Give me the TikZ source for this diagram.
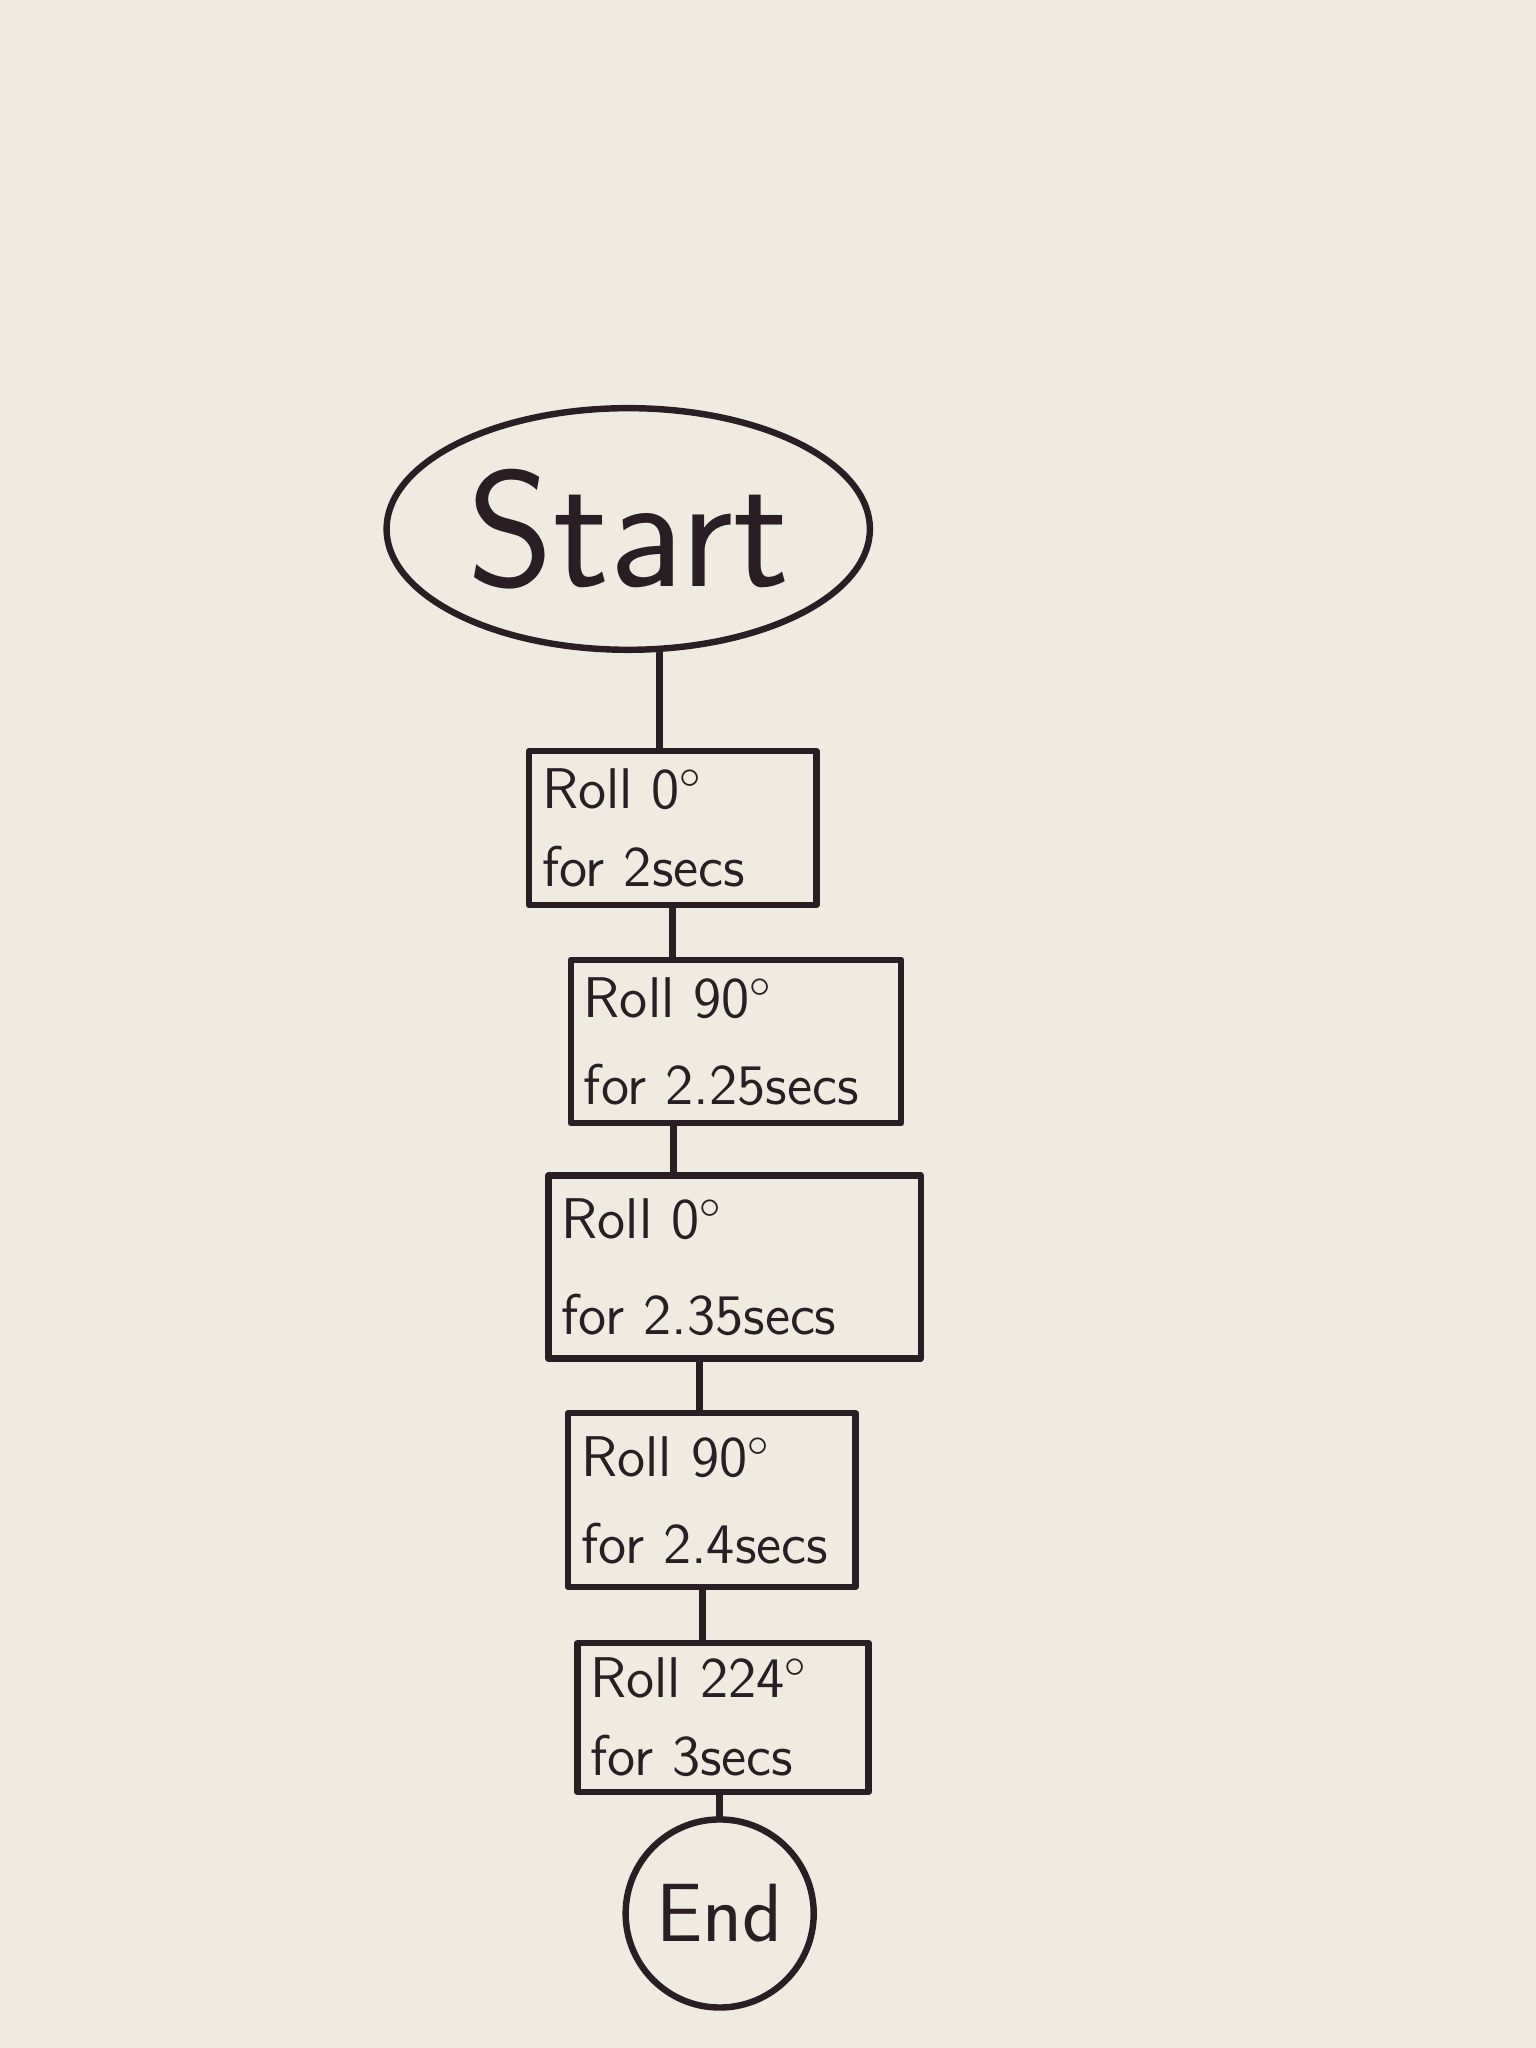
\documentclass[tikz,border=0pt]{standalone}
\usepackage{tikz}
\usetikzlibrary{positioning}
\usetikzlibrary{shapes.geometric}
\usetikzlibrary{calc}

\definecolor{paper}{RGB}{240,235,224}
\definecolor{ink}{RGB}{40,30,35}

\tikzset{
	rollbox/.style={draw=ink, line width=1.4pt, align=left, text=ink, inner sep=2.8pt,
		font=\sffamily\fontsize{12.5}{17}\selectfont},
	flowline/.style={draw=ink, line width=1.4pt}
}

\begin{document}
\begin{tikzpicture}[line cap=round,line join=round,x=1.0cm,y=1.0cm]
	\fill [paper] (0,0) rectangle (11.76,-15.68);
	\useasboundingbox (0,0) rectangle (11.76,-15.68);
	\node [draw=ink, line width=1.4pt, ellipse, minimum width=3.7cm, minimum height=1.85cm, inner sep=0pt, text=ink,
		font=\sffamily\fontsize{36}{36}\selectfont] (start) at (4.81,-4.05) {Start};
	\node [rollbox, minimum width=2.2cm, minimum height=1.18cm, text width=2.0cm] (roll1) at (5.15,-6.34) {Roll 0$^\circ$\\for 2secs};
	\node [rollbox, minimum width=2.53cm, minimum height=1.25cm, text width=2.33cm] (roll2) at (5.635,-7.975) {Roll 90$^\circ$\\[2pt]for 2.25secs};
	\node [rollbox, minimum width=2.85cm, minimum height=1.40cm, text width=2.65cm] (roll3) at (5.625,-9.70) {Roll 0$^\circ$\\[4pt]for 2.35secs};
	\node [rollbox, minimum width=2.2cm, minimum height=1.33cm, text width=2.0cm] (roll4) at (5.45,-11.485) {Roll 90$^\circ$\\[2pt]for 2.4secs};
	\node [rollbox, minimum width=2.23cm, minimum height=1.14cm, text width=2.03cm] (roll5) at (5.535,-13.15) {Roll 224$^\circ$\\for 3secs};
	\node [draw=ink, line width=1.4pt, circle, minimum size=1.44cm, inner sep=0pt, text=ink,
		font=\sffamily\fontsize{18}{18}\selectfont] (end) at (5.51,-14.65) {End};
	% connectors
	\draw [flowline] ([xshift=2.4mm]start.south) -- ([xshift=2.4mm]start.south |- roll1.north);
	\draw [flowline] (roll1.south) -- (roll1.south |- roll2.north);
	\draw [flowline] ([xshift=-4.8mm]roll2.south) -- ([xshift=-4.8mm]roll2.south |- roll3.north);
	\draw [flowline] ([xshift=-2.7mm]roll3.south) -- ([xshift=-2.7mm]roll3.south |- roll4.north);
	\draw [flowline] ([xshift=-0.7mm]roll4.south) -- ([xshift=-0.7mm]roll4.south |- roll5.north);
	\draw [flowline] (end.north |- roll5.south) -- (end.north);
\end{tikzpicture}
\end{document}
